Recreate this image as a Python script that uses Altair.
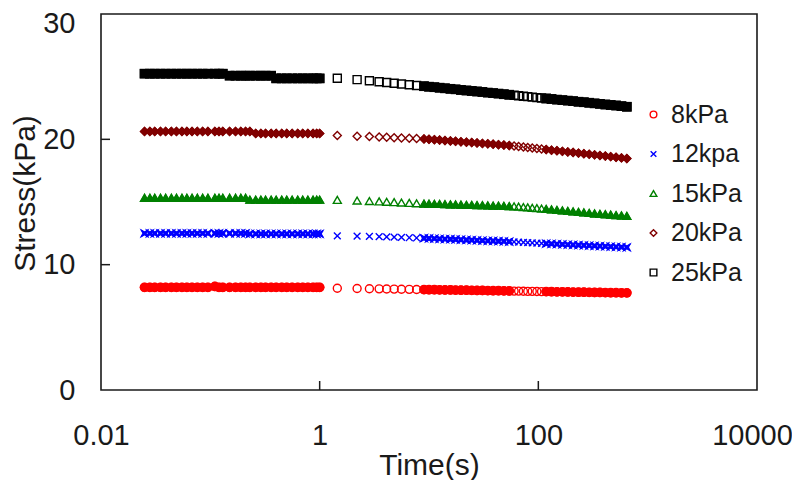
import altair as alt
import pandas as pd

# ---- data ----
time_s = [0.025, 0.028, 0.031, 0.035, 0.039, 0.044, 0.049, 0.055, 0.061, 0.068, 0.076, 0.085,
          0.095, 0.11, 0.12, 0.13, 0.15, 0.17, 0.19, 0.21, 0.23, 0.26, 0.29, 0.32, 0.36, 0.40,
          0.45, 0.50, 0.56, 0.63, 0.70, 0.78, 0.87, 0.94, 1.0,
          1.45, 2.2, 2.85, 3.5, 4.1, 4.8, 5.6, 6.6, 7.7,
          9.0, 10.0, 11.2, 12.5, 14.0, 15.7, 17.5, 19.6, 22.0, 24.6, 27.5, 30.8, 34.5, 38.6,
          43.2, 48.4, 54.2,
          60, 66, 73, 80, 88, 97, 107,
          118, 132, 148, 166, 186, 208, 233, 261, 292, 327, 366, 410, 459, 514, 576, 645]

stress_8 = [8.19, 8.19, 8.19, 8.19, 8.19, 8.19, 8.19, 8.19, 8.19, 8.19, 8.19, 8.19, 8.19, 8.26,
            8.19, 8.19, 8.19, 8.19, 8.19, 8.19, 8.19, 8.19, 8.19, 8.19, 8.19, 8.19, 8.19, 8.19,
            8.19, 8.19, 8.19, 8.19, 8.19, 8.19, 8.19,
            8.12, 8.1, 8.08, 8.07, 8.06, 8.05, 8.04, 8.03, 8.02,
            8.01, 8.0, 8.0, 7.99, 7.98, 7.98, 7.97, 7.96, 7.96, 7.95, 7.94, 7.94, 7.93, 7.92,
            7.92, 7.91, 7.9,
            7.89, 7.89, 7.88, 7.87, 7.87, 7.86, 7.85,
            7.85, 7.84, 7.83, 7.83, 7.82, 7.81, 7.8, 7.8, 7.79, 7.78, 7.78, 7.77, 7.76, 7.76,
            7.75, 7.75]

stress_12 = [12.5, 12.5, 12.5, 12.5, 12.5, 12.5, 12.5, 12.5, 12.5, 12.5, 12.5, 12.5, 12.5, 12.5,
             12.5, 12.5, 12.5, 12.5, 12.5, 12.5, 12.46, 12.46, 12.46, 12.46, 12.46, 12.46, 12.46,
             12.46, 12.46, 12.46, 12.46, 12.46, 12.46, 12.46, 12.46,
             12.3, 12.27, 12.25, 12.23, 12.21, 12.19, 12.17, 12.15, 12.13,
             12.11, 12.09, 12.08, 12.06, 12.04, 12.03, 12.01, 11.99, 11.97, 11.96, 11.94, 11.92,
             11.9, 11.89, 11.87, 11.86, 11.84,
             11.82, 11.8, 11.78, 11.76, 11.74, 11.72, 11.7,
             11.68, 11.66, 11.64, 11.62, 11.6, 11.58, 11.56, 11.54, 11.52, 11.5, 11.48, 11.46,
             11.44, 11.42, 11.4, 11.38]

stress_15 = [15.34, 15.34, 15.34, 15.34, 15.34, 15.34, 15.34, 15.34, 15.34, 15.34, 15.34, 15.34,
             15.34, 15.34, 15.34, 15.34, 15.34, 15.34, 15.34, 15.34, 15.19, 15.19, 15.19, 15.19,
             15.19, 15.19, 15.19, 15.19, 15.19, 15.19, 15.19, 15.19, 15.19, 15.19, 15.19,
             15.17, 15.12, 15.08, 15.05, 15.02, 14.99, 14.96, 14.93, 14.9,
             14.88, 14.87, 14.86, 14.85, 14.83, 14.82, 14.81, 14.8, 14.78, 14.77, 14.76, 14.75,
             14.73, 14.72, 14.71, 14.7, 14.68,
             14.66, 14.63, 14.6, 14.57, 14.54, 14.51, 14.48,
             14.45, 14.41, 14.37, 14.33, 14.29, 14.25, 14.21, 14.17, 14.13, 14.09, 14.06, 14.03,
             14.0, 13.96, 13.93, 13.9]

stress_20 = [20.63, 20.63, 20.63, 20.63, 20.63, 20.63, 20.63, 20.63, 20.63, 20.63, 20.63, 20.63,
             20.63, 20.63, 20.63, 20.63, 20.63, 20.63, 20.63, 20.63, 20.63, 20.47, 20.47, 20.47,
             20.47, 20.47, 20.47, 20.47, 20.47, 20.47, 20.47, 20.47, 20.47, 20.47, 20.47,
             20.3, 20.25, 20.22, 20.19, 20.16, 20.13, 20.11, 20.08, 20.06,
             20.03, 20.0, 19.97, 19.94, 19.9, 19.87, 19.84, 19.8, 19.77, 19.74, 19.71, 19.67,
             19.64, 19.61, 19.57, 19.54, 19.5,
             19.46, 19.42, 19.38, 19.34, 19.3, 19.26, 19.22,
             19.18, 19.13, 19.09, 19.04, 18.99, 18.95, 18.9, 18.85, 18.81, 18.76, 18.71, 18.67,
             18.62, 18.57, 18.52, 18.47]

stress_25 = [25.24, 25.24, 25.24, 25.24, 25.24, 25.24, 25.24, 25.24, 25.24, 25.24, 25.24, 25.24,
             25.24, 25.24, 25.24, 25.24, 25.08, 25.08, 25.08, 25.08, 25.08, 25.08, 25.08, 25.08,
             25.08, 24.86, 24.86, 24.86, 24.86, 24.86, 24.86, 24.86, 24.86, 24.86, 24.86,
             24.87, 24.76, 24.68, 24.6, 24.53, 24.47, 24.42, 24.35, 24.29,
             24.24, 24.2, 24.16, 24.12, 24.07, 24.03, 23.99, 23.94, 23.9, 23.86, 23.82, 23.78,
             23.73, 23.69, 23.65, 23.6, 23.56,
             23.52, 23.48, 23.44, 23.41, 23.37, 23.33, 23.3,
             23.26, 23.22, 23.17, 23.13, 23.09, 23.05, 23.0, 22.96, 22.92, 22.87, 22.83, 22.78,
             22.74, 22.7, 22.65, 22.6]

series_names = ["8kPa", "12kpa", "15kPa", "20kPa", "25kPa"]
series_colors = ["#FF0000", "#0000FF", "#008000", "#800000", "#000000"]
x_tick_values = [0.01, 1, 100, 10000]
y_tick_values = [0, 10, 20, 30]
x_inner_ticks = [1, 100]
y_inner_ticks = [10, 20]

# ---- build table ----
rows = []
for name, vals in zip(series_names, [stress_8, stress_12, stress_15, stress_20, stress_25]):
    for t, v in zip(time_s, vals):
        rows.append({"series": name, "time": t, "stress": v})
df = pd.DataFrame(rows)

W, H = 656, 376
FONT = "Liberation Sans"
TXT = "#1a1a1a"

x_scale = alt.Scale(type="log", domain=[0.01, 10000], nice=False)
y_scale = alt.Scale(domain=[0, 30], nice=False, zero=False)

X_PATH = "M-0.85,-0.85L0.85,0.85M-0.85,0.85L0.85,-0.85"
STAR_X = "M-1,-1L0,-0.45L1,-1L0.45,0L1,1L0,0.45L-1,1L-0.45,0Z"

x_axis = alt.Axis(values=x_tick_values, format="~g", grid=False, ticks=False, domain=False,
                  labelFont=FONT, labelFontSize=29, labelColor=TXT, labelPadding=31,
                  labelFlush=False, labelOverlap=False,
                  labelOffset={"condition": {"test": "datum.value == 10000", "value": -5},
                               "value": 0},
                  titleFont=FONT, titleFontSize=30, titleFontWeight="normal", titleColor=TXT,
                  titleY=75, titleBaseline="middle")
y_axis = alt.Axis(values=y_tick_values, grid=False, ticks=False, domain=False,
                  labelFont=FONT, labelFontSize=29, labelColor=TXT, labelPadding=26,
                  labelFlush=False, labelOverlap=False,
                  labelOffset={"condition": {"test": "datum.value == 30", "value": 9},
                               "value": 0},
                  titleFont=FONT, titleFontSize=30, titleFontWeight="normal", titleColor=TXT,
                  titleAngle=270, titleX=-76, titleY=179, titleAlign="center",
                  titleBaseline="middle")

X_ENC = alt.X("time:Q", scale=x_scale, axis=x_axis, title="Time(s)")
Y_ENC = alt.Y("stress:Q", scale=y_scale, axis=y_axis, title="Stress(kPa)")

filled = alt.Chart(df).transform_filter(
    "datum.time <= 1.0 || (datum.time >= 9 && datum.time < 58) || datum.time >= 115"
).mark_point(filled=True, size=95, opacity=1).encode(
    x=X_ENC,
    y=Y_ENC,
    color=alt.Color("series:N", scale=alt.Scale(domain=series_names, range=series_colors),
                    legend=None),
    shape=alt.Shape("series:N", scale=alt.Scale(domain=series_names,
                    range=["circle", STAR_X, "triangle-up", "diamond", "square"]),
                    legend=None),
)

legend = alt.Legend(title=None, orient="none", legendX=540, legendY=88, padding=0,
                    labelFont=FONT, labelFontSize=25, labelColor=TXT, labelOffset=5,
                    symbolSize=45, symbolStrokeWidth=1.4, rowPadding=13.5)

hollow = alt.Chart(df).mark_point(filled=False, size=64, strokeWidth=1.4, opacity=1).encode(
    x=X_ENC,
    y=Y_ENC,
    color=alt.Color("series:N", scale=alt.Scale(domain=series_names, range=series_colors),
                    legend=legend),
    shape=alt.Shape("series:N", scale=alt.Scale(domain=series_names,
                    range=["circle", X_PATH, "triangle-up", "diamond", "square"]),
                    legend=legend),
)

xt = alt.Chart(pd.DataFrame({"time": x_inner_ticks})).mark_rule(
    color="#1a1a1a", strokeWidth=1.5).encode(
    x=X_ENC,
    y=alt.value(H), y2=alt.value(H - 9))

yt = alt.Chart(pd.DataFrame({"stress": y_inner_ticks})).mark_rule(
    color="#1a1a1a", strokeWidth=1.5).encode(
    y=Y_ENC,
    x=alt.value(0), x2=alt.value(9))

chart = alt.layer(filled, hollow, xt, yt).resolve_scale(
    color="independent", shape="independent"
).properties(
    width=W, height=H,
    autosize=alt.AutoSizeParams(type="none"),
    padding={"left": 93, "top": 6, "right": 35, "bottom": 90},
    background="white",
).configure_view(stroke="#1a1a1a", strokeWidth=1.6)

chart.save("out.html", embed_options={"renderer": "svg", "actions": False})
